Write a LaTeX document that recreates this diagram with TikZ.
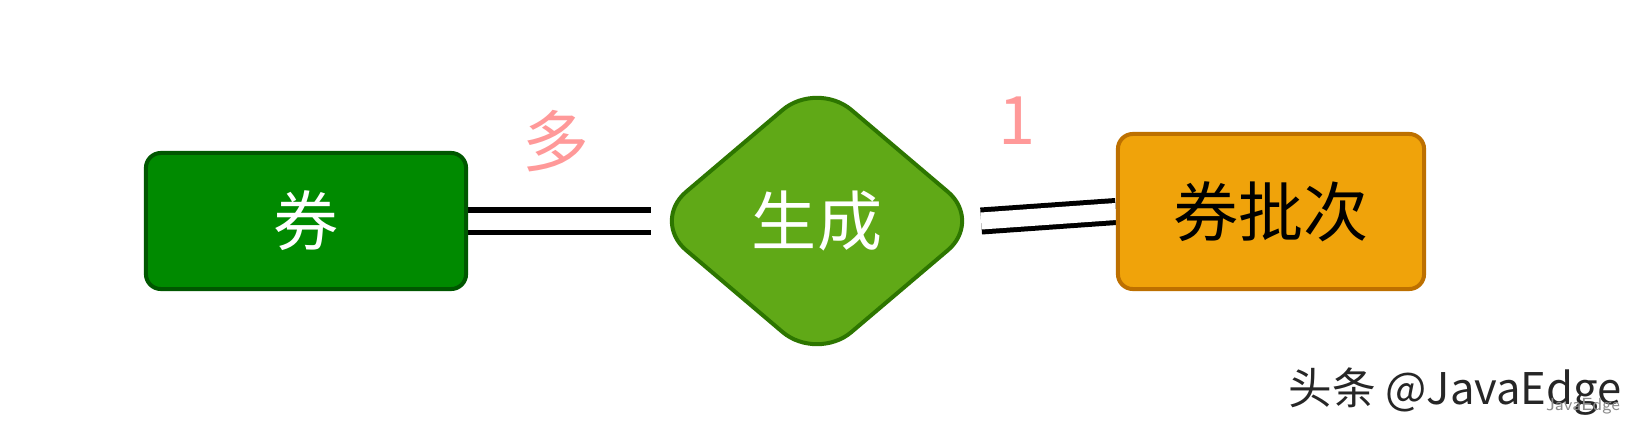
\documentclass[tikz,border=0pt]{standalone}
\usepackage{fontspec}
\usepackage{tikz}
\usetikzlibrary{shapes}
\usetikzlibrary{backgrounds}
\newfontfamily\cjk{Noto Sans CJK SC}
\definecolor{entityGreen}{HTML}{008A00}
\definecolor{entityGreenLine}{HTML}{005700}
\definecolor{relGreen}{HTML}{60A917}
\definecolor{relGreenLine}{HTML}{2D7600}
\definecolor{entityOrange}{HTML}{F0A30A}
\definecolor{entityOrangeLine}{HTML}{BD7000}
\definecolor{cardPink}{HTML}{FF9999}

\begin{document}
\begin{tikzpicture}[x=0.01cm,y=-0.01cm,
  entity/.style={rectangle, rounded corners=0.15cm, line width=0.04cm, inner sep=0pt,
    font=\cjk\fontsize{18.5}{20}\selectfont},
  relation/.style={diamond, aspect=1.17, rounded corners=0.45cm, line width=0.04cm, inner sep=0pt,
    font=\cjk\fontsize{18.5}{20}\selectfont},
  link/.style={double, line width=0.05cm, double distance=0.17cm},
  card/.style={text=cardPink, font=\cjk\fontsize{19}{20}\selectfont}]
  \useasboundingbox (0,0) rectangle (1636,424);

  %% entities and relation
  \node[entity, fill=entityGreen, draw=entityGreenLine, text=white,
    minimum width=3.2cm, minimum height=1.36cm] (quan) at (306,221) {券};
  \node[relation, fill=relGreen, draw=relGreenLine, text=white,
    minimum width=3.32cm, minimum height=2.82cm] (gen) at (817,221) {生成};
  \node[entity, fill=entityOrange, draw=entityOrangeLine, text=black,
    minimum width=3.06cm, minimum height=1.55cm] (batch) at (1271,211.5) {券批次};

  % links
  \begin{pgfonlayer}{background}
    \draw[link] (quan.east) -- ([xshift=0.02cm]gen.west);
    \draw[link] ([xshift=-0.04cm]gen.east) -- (batch.west);
  \end{pgfonlayer}

  % cardinality
  \node[card] (many) at (556,141) {多};
  \node[card] (one) at (1017,121) {1};

  %% watermark
  \node[anchor=west, text=black!85, font=\cjk\fontsize{12.4}{14}\selectfont] (mark) at (1276,392) {头条 @JavaEdge};
  \node[text=black!45, font=\sffamily\fontsize{5}{6}\selectfont] (markSmall) at (1583,406) {JavaEdge};
\end{tikzpicture}
\end{document}
